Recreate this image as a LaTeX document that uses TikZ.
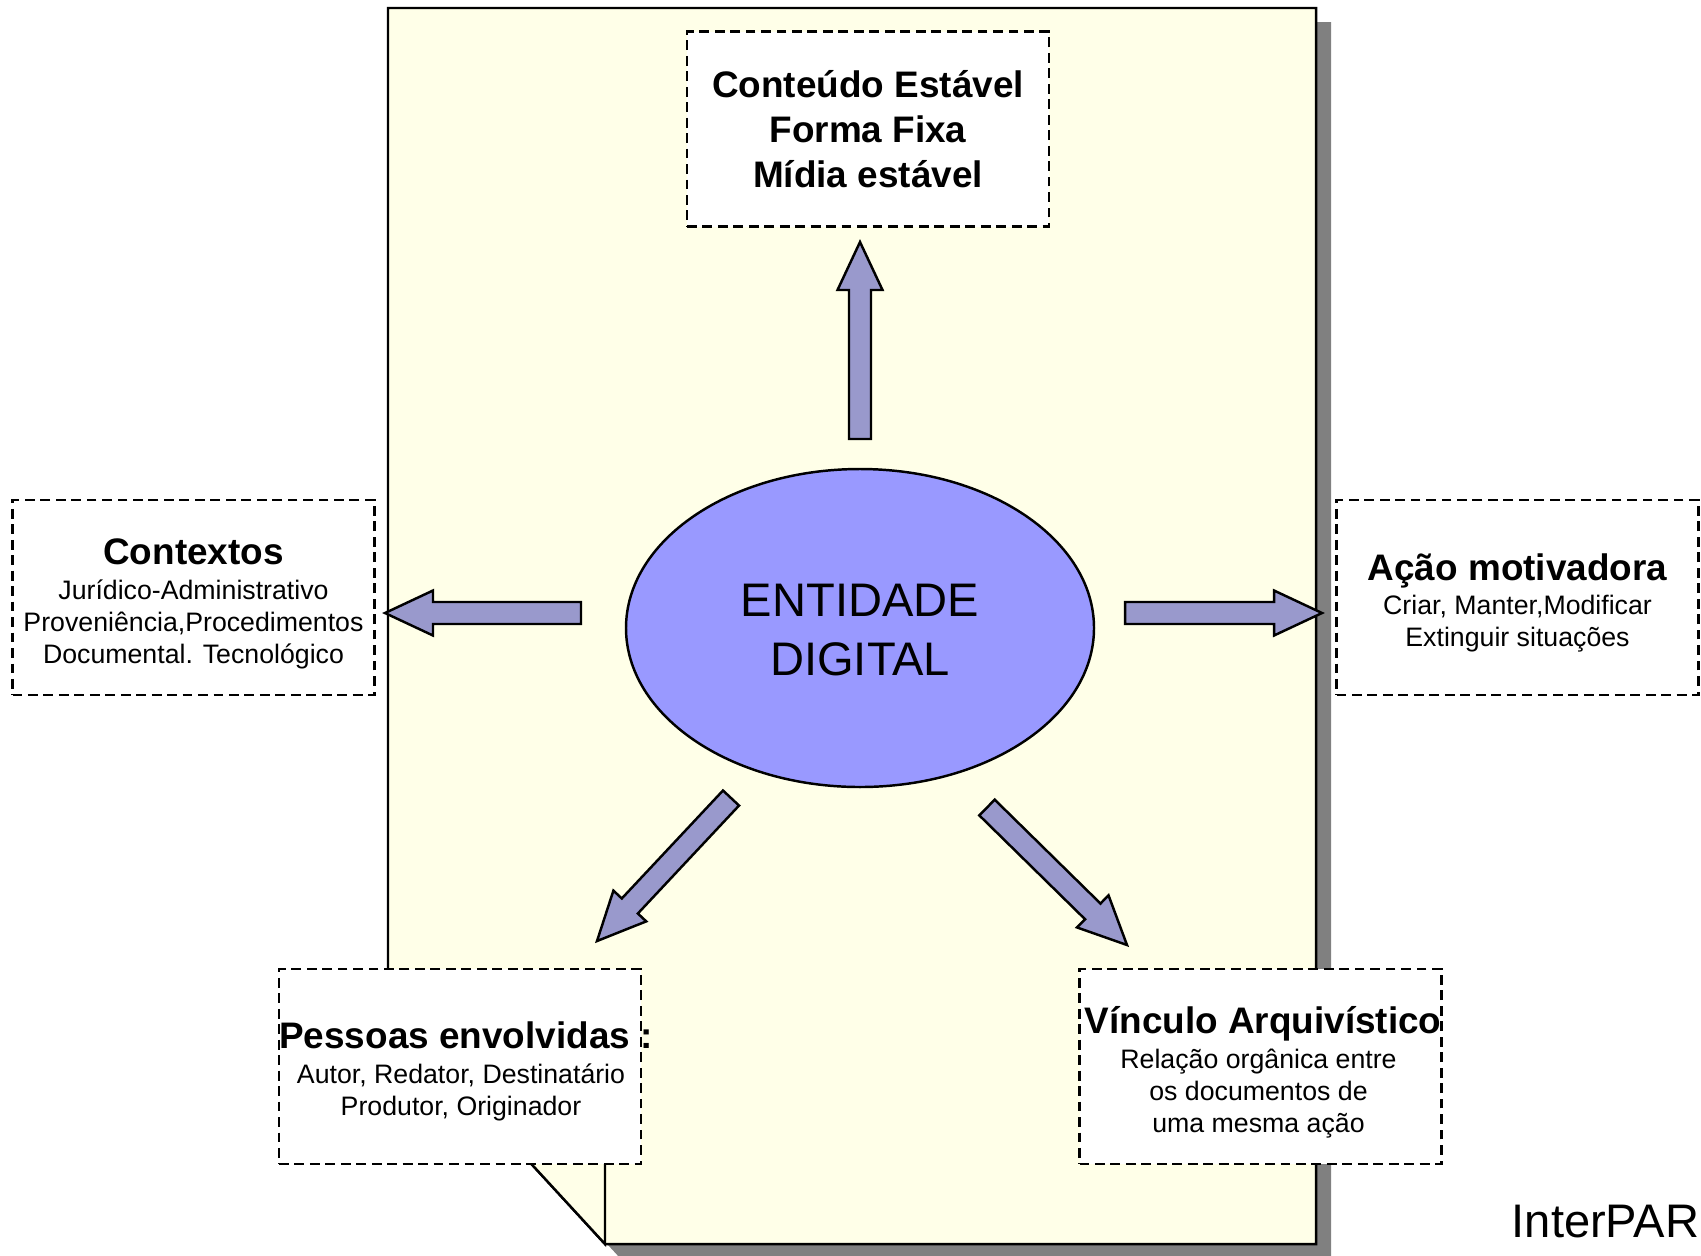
\documentclass[tikz,border=0pt]{standalone}
\usepackage{fontspec}
\setmainfont{Liberation Sans}
\usetikzlibrary{calc,shapes.geometric}

\definecolor{pagefill}{RGB}{255,255,232}
\definecolor{entfill}{RGB}{153,153,255}
\definecolor{arrowfill}{RGB}{153,153,204}
\definecolor{shadowgray}{RGB}{128,128,128}

% block arrow from tail #1 to tip #2
\newcommand{\blockarrow}[2]{%
  \coordinate (hb) at ($(#2)!0.48cm!(#1)$);
  \draw[arrowbox] ($(#1)!0.11cm!90:(#2)$) -- ($(hb)!0.11cm!90:(#2)$) -- ($(hb)!0.225cm!90:(#2)$) -- (#2)
    -- ($(hb)!0.225cm!-90:(#2)$) -- ($(hb)!0.11cm!-90:(#2)$) -- ($(#1)!0.11cm!-90:(#2)$) -- cycle;}
% bold heading line, centred even when wider than the box
\newcommand{\boxtitle}[1]{\makebox[3.4cm][c]{\bfseries\fontsize{10.5}{12}\selectfont #1}}

\begin{document}
\begin{tikzpicture}[
  infobox/.style={draw, dash pattern=on 2.8pt off 1.6pt, line width=0.6pt, fill=white,
    minimum width=3.62cm, minimum height=1.95cm, inner sep=0pt},
  boxtext/.style={align=center, inner sep=0pt, font=\fontsize{7.6}{9.1}\selectfont},
  arrowbox/.style={draw, fill=arrowfill, line width=0.7pt, line join=miter}]
  \useasboundingbox (0,0) rectangle (17.01,-12.55);

  % Page with shadow and folded corner
  \fill[shadowgray] (4.03,-0.22) -- (13.31,-0.22) -- (13.31,-12.58) -- (6.20,-12.58) -- (4.03,-10.22) -- cycle;
  \draw[fill=pagefill, line width=0.7pt] (3.88,-0.08) -- (13.16,-0.08) -- (13.16,-12.44) -- (6.05,-12.44) -- (3.88,-10.08) -- cycle;
  \draw[fill=pagefill, line width=0.7pt] (3.88,-10.08) -- (6.05,-10.08) -- (6.05,-12.44) -- cycle;

  % Central entity
  \node[ellipse, draw, fill=entfill, line width=0.7pt, minimum width=4.68cm, minimum height=3.18cm,
    inner sep=0pt, align=center, font=\fontsize{13.4}{16.7}\selectfont] (ent) at (8.60,-6.28) {};
  \node[align=center, inner sep=0pt, font=\fontsize{13.4}{16.7}\selectfont] (entname) at (8.60,-6.30) {ENTIDADE\\DIGITAL};

  % Boxes
  \node[infobox] (fixa) at (8.68,-1.29) {};
  \node[infobox] (ctx) at (1.935,-5.975) {};
  \node[infobox] (acao) at (15.175,-5.975) {};
  \node[infobox] (pess) at (4.60,-10.665) {};
  \node[infobox] (vinc) at (12.605,-10.665) {};

  % Box texts
  \node[boxtext, font=\bfseries\fontsize{10.5}{12.8}\selectfont] (fixatext) at (fixa)
    {Conteúdo Estável\\Forma Fixa\\Mídia estável};
  \node[boxtext] (ctxtext) at ($(ctx)+(0,-0.065)$)
    {\boxtitle{Contextos}\\[0.8pt]Jurídico-Administrativo\\Proveniência,Procedimentos\\Documental. Tecnológico};
  \node[boxtext] (acaotext) at ($(acao)+(0,-0.055)$)
    {\boxtitle{Ação motivadora}\\[0.8pt]Criar, Manter,Modificar\\Extinguir situações};
  \node[boxtext] (pesstext) at ($(pess)+(0.01,-0.05)$)
    {\boxtitle{\hspace*{0.1cm}Pessoas envolvidas :}\\[0.8pt]Autor, Redator, Destinatário\\Produtor, Originador};
  \node[boxtext] (vinctext) at ($(vinc)+(-0.02,-0.055)$)
    {\boxtitle{\hspace*{0.09cm}Vínculo Arquivístico}\\[0.8pt]Relação orgânica entre\\os documentos de\\uma mesma ação};

  \node[anchor=base west, inner sep=0pt, font=\fontsize{13.4}{16}\selectfont] (interpares) at (15.11,-12.37) {InterPAR};

  % Arrow ends
  \coordinate (upT) at (8.60,-4.39);
  \coordinate (upP) at (8.60,-2.42);
  \coordinate (lfT) at (5.81,-6.13);
  \coordinate (lfP) at (3.85,-6.13);
  \coordinate (rtT) at (11.25,-6.13);
  \coordinate (rtP) at (13.22,-6.13);
  \coordinate (dlT) at (7.31,-7.98);
  \coordinate (dlP) at (5.97,-9.41);
  \coordinate (drT) at (9.87,-8.075);
  \coordinate (drP) at (11.27,-9.45);

  % Arrows
  \blockarrow{upT}{upP}
  \blockarrow{lfT}{lfP}
  \blockarrow{rtT}{rtP}
  \blockarrow{dlT}{dlP}
  \blockarrow{drT}{drP}
\end{tikzpicture}
\end{document}
